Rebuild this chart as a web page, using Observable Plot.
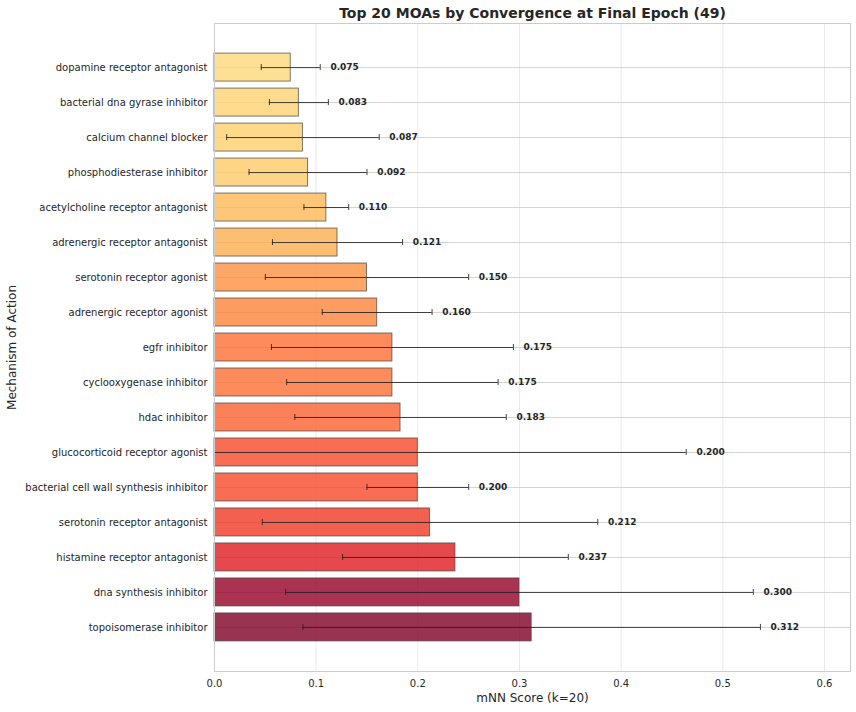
<!DOCTYPE html>
<html>
<head>
<meta charset="utf-8">
<script src="https://cdn.jsdelivr.net/npm/d3@7"></script>
<script src="https://cdn.jsdelivr.net/npm/@observablehq/plot@0.6"></script>
<style>
  html, body { margin: 0; padding: 0; background: #fff; }
  #chart svg { display: block; }
</style>
</head>
<body>
<div id="chart"></div>
<script>
const moas = [
  "dopamine receptor antagonist",
  "bacterial dna gyrase inhibitor",
  "calcium channel blocker",
  "phosphodiesterase inhibitor",
  "acetylcholine receptor antagonist",
  "adrenergic receptor antagonist",
  "serotonin receptor agonist",
  "adrenergic receptor agonist",
  "egfr inhibitor",
  "cyclooxygenase inhibitor",
  "hdac inhibitor",
  "glucocorticoid receptor agonist",
  "bacterial cell wall synthesis inhibitor",
  "serotonin receptor antagonist",
  "histamine receptor antagonist",
  "dna synthesis inhibitor",
  "topoisomerase inhibitor"
];
const means = [0.075, 0.083, 0.087, 0.092, 0.110, 0.121, 0.150, 0.160, 0.175, 0.175, 0.183, 0.200, 0.200, 0.212, 0.237, 0.300, 0.312];
const stds  = [0.029, 0.029, 0.075, 0.058, 0.022, 0.064, 0.100, 0.054, 0.119, 0.104, 0.104, 0.264, 0.050, 0.165, 0.111, 0.230, 0.225];
const xTicks = [0.0, 0.1, 0.2, 0.3, 0.4, 0.5, 0.6];

const titleText = "Top 20 MOAs by Convergence at Final Epoch (49)";
const xLabel = "mNN Score (k=20)";
const yLabel = "Mechanism of Action";

const data = moas.map((moa, i) => ({moa, mean: means[i], std: stds[i]}));
const maxMean = d3.max(means);
const textColor = "#262626";
const font = "DejaVu Sans, sans-serif";

const chart = Plot.plot({
  width: 856,
  height: 712,
  marginLeft: 214,
  marginRight: 6,
  marginTop: 23,
  marginBottom: 41,
  style: {fontFamily: font, color: textColor, background: "#fff"},
  x: {domain: [0, 0.6256]},
  y: {domain: moas, paddingInner: 0.2, paddingOuter: 0.86, round: false},
  color: {type: "linear", scheme: "YlOrRd", domain: [0, maxMean]},
  marks: [
    Plot.ruleX(xTicks, {x: d => d, stroke: "#ebebeb", strokeWidth: 1}),
    Plot.ruleY(moas, {y: d => d, stroke: "#d4d4d4", strokeWidth: 1}),
    Plot.barX(data, {
      x: "mean", y: "moa", fill: "mean", fillOpacity: 0.8,
      stroke: "#444", strokeOpacity: 0.7, strokeWidth: 1
    }),
    Plot.ruleY(data, {
      y: "moa", x1: d => d.mean - d.std, x2: d => d.mean + d.std,
      stroke: "#222", strokeWidth: 1, strokeOpacity: 0.85, clip: true
    }),
    Plot.tickX(data, {
      x: d => d.mean - d.std, y: "moa", insetTop: 11, insetBottom: 11,
      stroke: "#222", strokeWidth: 1, strokeOpacity: 0.85, clip: true
    }),
    Plot.tickX(data, {
      x: d => d.mean + d.std, y: "moa", insetTop: 11, insetBottom: 11,
      stroke: "#222", strokeWidth: 1, strokeOpacity: 0.85, clip: true
    }),
    Plot.text(data, {
      x: d => d.mean + d.std + 0.01, y: "moa", text: d => d.mean.toFixed(3),
      textAnchor: "start", fontWeight: "bold", fontSize: 9, fill: textColor
    }),
    Plot.frame({stroke: "#cccccc", strokeWidth: 1}),
    Plot.axisY({tickSize: 0, tickPadding: 7, fontSize: 10, label: null, fill: textColor}),
    Plot.axisX({ticks: xTicks, tickFormat: d3.format(".1f"), tickSize: 0, tickPadding: 8, fontSize: 10, label: null, fill: textColor}),
    Plot.text([titleText], {
      text: d => d, frameAnchor: "top", textAnchor: "middle", lineAnchor: "middle",
      dy: -10, fontSize: 14, fontWeight: "bold", fill: textColor
    }),
    Plot.text([xLabel], {
      text: d => d, frameAnchor: "bottom", textAnchor: "middle", lineAnchor: "middle",
      dy: 27, fontSize: 12, fill: textColor
    }),
    Plot.text([yLabel], {
      text: d => d, frameAnchor: "left", textAnchor: "middle", lineAnchor: "middle",
      dx: -202, rotate: -90, fontSize: 12, fill: textColor
    })
  ]
});
document.getElementById("chart").appendChild(chart);
</script>
</body>
</html>
